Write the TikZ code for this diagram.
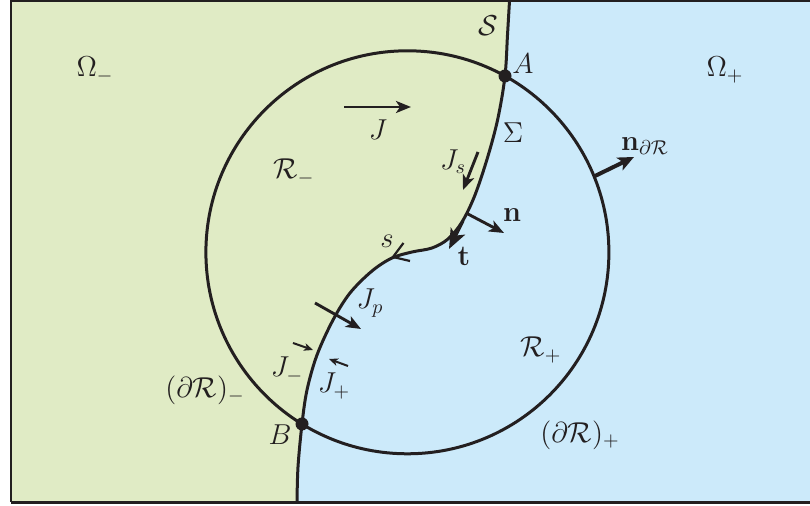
\documentclass[tikz,border=0pt]{standalone}
\usetikzlibrary{arrows.meta}
\definecolor{gr}{RGB}{224,235,197}
\definecolor{bl}{RGB}{204,234,250}
\definecolor{ink}{RGB}{35,31,32}
\begin{document}
\begin{tikzpicture}[x=0.5pt,y=-0.5pt,
  lab/.style={font=\fontsize{14.5}{17}\selectfont, inner sep=0pt, text=ink},
  arr/.style={draw=ink, line width=1.45pt, -{Stealth[length=7.5pt,width=6pt,inset=2pt]}},
  smallarr/.style={draw=ink, line width=1pt, -{Stealth[length=4.5pt,width=3.8pt,inset=1.2pt]}},
  bigarr/.style={draw=ink, line width=2pt, -{Stealth[length=8pt,width=7pt,inset=2pt]}},
  curveline/.style={draw=ink, line width=1.5pt}]
\useasboundingbox (0,0) rectangle (810,506);
% regions
\fill[bl] (11,1) rectangle (812,502);
\fill[gr] (11,1) -- plot[smooth,tension=0.55] coordinates {(509.5,1) (507.5,35) (505,76) (498,118) (488,156) (475,195) (462,222) (448,239) (432,248) (412,252) (392,258) (372,271) (350,293) (333,320) (317,355) (307,390) (302,424) (298,467) (297,503)} -- (11,502) -- cycle;
% frame
\draw[ink, line width=1pt] (812,1) -- (11,1) -- (11,502);
\draw[ink, line width=1.5pt] (10.5,502.5) -- (812,502.5);
% circle and interface
\coordinate (O) at (407.4,252.3);
\draw[curveline] (O) circle[radius=201.5];
\draw[curveline] plot[smooth,tension=0.55] coordinates {(509.5,1) (507.5,35) (505,76) (498,118) (488,156) (475,195) (462,222) (448,239) (432,248) (412,252) (392,258) (372,271) (350,293) (333,320) (317,355) (307,390) (302,424) (298,467) (297,503)};
\coordinate (A) at (505,76);
\coordinate (B) at (302,424);
\fill[ink] (A) circle[radius=6.5];
\fill[ink] (B) circle[radius=6.5];
% arrows
\coordinate (j1) at (344,107); \coordinate (j2) at (411,107);
\draw[arr] (j1) -- (j2);
\coordinate (js1) at (478,152); \coordinate (js2) at (463,190);
\draw[arr] (js1) -- (js2);
\coordinate (n1) at (466,213); \coordinate (n2) at (504,233);
\draw[arr] (n1) -- (n2);
\coordinate (t1) at (463,221); \coordinate (t2) at (449,249);
\draw[draw=ink, line width=1.5pt, -{Stealth[length=10pt,width=8pt,inset=2.5pt]}] (t1) -- (t2);
\coordinate (nd1) at (595,176); \coordinate (nd2) at (634,157);
\draw[bigarr] (nd1) -- (nd2);
\coordinate (jp1) at (315,303); \coordinate (jp2) at (361,329);
\draw[arr] (jp1) -- (jp2);
\coordinate (jm1) at (293,343); \coordinate (jm2) at (313,350);
\draw[smallarr] (jm1) -- (jm2);
\coordinate (jpl1) at (348,366); \coordinate (jpl2) at (329,359);
\draw[smallarr] (jpl1) -- (jpl2);
% barb at s
\coordinate (sb1) at (403.5,243); \coordinate (sb0) at (393,257); \coordinate (sb2) at (410,261);
\draw[ink, line width=1.1pt, line join=miter] (sb1) -- (sb0) -- (sb2);
% labels
\node[lab] (lS) at (488,26) {$\mathcal{S}$};
\node[lab] (lA) at (523,64) {$A$};
\node[lab] (lSig) at (513,133) {$\Sigma$};
\node[lab] (lOm) at (95,70) {$\Omega_-$};
\node[lab] (lOp) at (725,70) {$\Omega_+$};
\node[lab] (lJ) at (378,130) {$J$};
\node[lab] (lRm) at (294,172) {$\mathcal{R}_-$};
\node[lab] (lJs) at (453,162) {$J_s$};
\node[lab] (lnd) at (645,146) {$\mathbf{n}_{\partial\mathcal{R}}$};
\node[lab] (ln) at (512,215) {$\mathbf{n}$};
\node[lab] (lt) at (464,256) {$\mathbf{t}$};
\node[lab] (ls) at (387,241) {$s$};
\node[lab] (lJp) at (370,303) {$J_p$};
\node[lab] (lJm) at (287,370) {$J_-$};
\node[lab] (lJpl) at (334,386) {$J_+$};
\node[lab] (ldRm) at (205,390) {$(\partial\mathcal{R})_-$};
\node[lab] (lB) at (280,435) {$B$};
\node[lab] (lRp) at (541,350) {$\mathcal{R}_+$};
\node[lab] (ldRp) at (580,435) {$(\partial\mathcal{R})_+$};
\end{tikzpicture}
\end{document}
